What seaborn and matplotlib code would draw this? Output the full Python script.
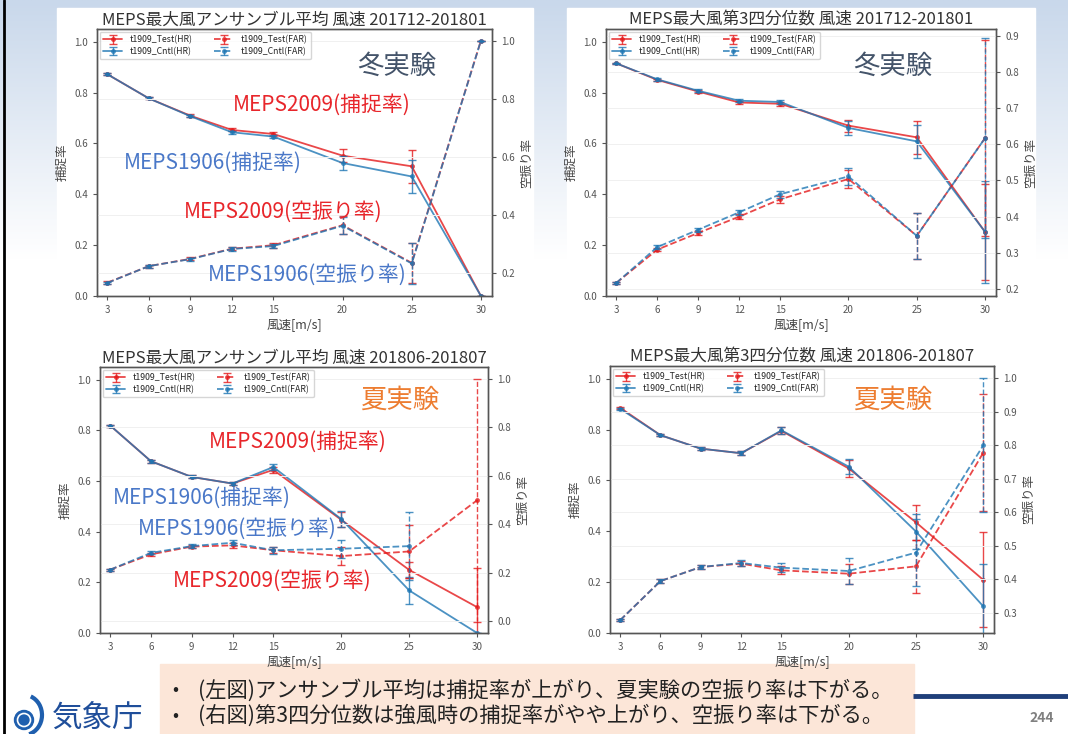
import numpy as np
import matplotlib
matplotlib.use("Agg")
import matplotlib.pyplot as plt
from matplotlib.patches import Rectangle, Circle, Arc
import seaborn as sns

sns.set_style("ticks")
plt.rcParams['font.family'] = ['Noto Sans CJK JP', 'DejaVu Sans']

# wind speed classes [m/s]
wind = [3, 6, 9, 12, 15, 20, 25, 30]

# winter, ensemble mean (201712-201801)
w_mean_hr_test = [0.872, 0.777, 0.709, 0.653, 0.637, 0.552, 0.510, 0.0]
w_mean_hr_cntl = [0.872, 0.777, 0.707, 0.644, 0.627, 0.523, 0.470, 0.0]
w_mean_hr_test_err = [0.004, 0.004, 0.005, 0.006, 0.007, 0.026, 0.065, 0.0]
w_mean_hr_cntl_err = [0.004, 0.004, 0.005, 0.006, 0.007, 0.026, 0.065, 0.0]
w_mean_far_test = [0.166, 0.223, 0.248, 0.283, 0.295, 0.364, 0.234, 1.0]
w_mean_far_cntl = [0.165, 0.223, 0.247, 0.282, 0.292, 0.362, 0.232, 1.0]
w_mean_far_test_err = [0.004, 0.005, 0.005, 0.006, 0.008, 0.030, 0.070, 0.0]
w_mean_far_cntl_err = [0.004, 0.005, 0.005, 0.006, 0.008, 0.030, 0.070, 0.0]

# winter, 3rd quartile
w_q3_hr_test = [0.915, 0.850, 0.804, 0.761, 0.756, 0.670, 0.624, 0.252]
w_q3_hr_cntl = [0.915, 0.852, 0.807, 0.768, 0.763, 0.661, 0.608, 0.252]
w_q3_hr_test_err = [0.003, 0.005, 0.006, 0.007, 0.008, 0.024, 0.064, 0.19]
w_q3_hr_cntl_err = [0.003, 0.005, 0.006, 0.007, 0.008, 0.026, 0.066, 0.20]
w_q3_far_test = [0.217, 0.309, 0.355, 0.400, 0.448, 0.504, 0.347, 0.617]
w_q3_far_cntl = [0.217, 0.316, 0.364, 0.412, 0.462, 0.511, 0.347, 0.617]
w_q3_far_test_err = [0.003, 0.005, 0.006, 0.007, 0.009, 0.026, 0.064, 0.27]
w_q3_far_cntl_err = [0.003, 0.005, 0.006, 0.007, 0.010, 0.024, 0.064, 0.275]

# summer, ensemble mean (201806-201807)
s_mean_hr_test = [0.819, 0.678, 0.616, 0.590, 0.644, 0.447, 0.249, 0.102]
s_mean_hr_cntl = [0.819, 0.678, 0.616, 0.590, 0.655, 0.450, 0.168, 0.0]
s_mean_hr_test_err = [0.004, 0.005, 0.006, 0.007, 0.012, 0.030, 0.030, 0.155]
s_mean_hr_cntl_err = [0.004, 0.005, 0.006, 0.007, 0.013, 0.033, 0.052, 0.0]
s_mean_far_test = [0.213, 0.276, 0.308, 0.313, 0.293, 0.269, 0.288, 0.499]
s_mean_far_cntl = [0.213, 0.282, 0.310, 0.324, 0.293, 0.299, 0.310, np.nan]
s_mean_far_test_err = [0.004, 0.006, 0.007, 0.010, 0.012, 0.036, 0.110, 0.5]
s_mean_far_cntl_err = [0.004, 0.006, 0.007, 0.010, 0.015, 0.038, 0.140, np.nan]

# summer, 3rd quartile
s_q3_hr_test = [0.886, 0.778, 0.725, 0.707, 0.795, 0.647, 0.435, 0.209]
s_q3_hr_cntl = [0.882, 0.778, 0.725, 0.707, 0.797, 0.654, 0.399, 0.105]
s_q3_hr_test_err = [0.004, 0.005, 0.006, 0.008, 0.014, 0.034, 0.070, 0.187]
s_q3_hr_cntl_err = [0.004, 0.005, 0.006, 0.008, 0.015, 0.030, 0.070, 0.168]
s_q3_far_test = [0.277, 0.394, 0.436, 0.446, 0.426, 0.416, 0.438, 0.777]
s_q3_far_cntl = [0.277, 0.394, 0.436, 0.448, 0.434, 0.424, 0.479, 0.799]
s_q3_far_test_err = [0.003, 0.005, 0.006, 0.008, 0.012, 0.030, 0.079, 0.175]
s_q3_far_cntl_err = [0.003, 0.005, 0.006, 0.008, 0.014, 0.040, 0.100, 0.2]

series_labels = ['t1909_Test(HR)', 't1909_Cntl(HR)', 't1909_Test(FAR)', 't1909_Cntl(FAR)']

RED = '#e41a1c'
BLUE = '#1f77b4'
W, H = 1068, 734

fig = plt.figure(figsize=(10.68, 7.34), dpi=100)

# slide background
bg = fig.add_axes([0, 0, 1, 1], zorder=-10)
bg.set_xlim(0, W)
bg.set_ylim(H, 0)
bg.axis('off')
grad = np.linspace(0, 1, 100)[:, None] * np.ones((1, 10))
cm = matplotlib.colors.LinearSegmentedColormap.from_list('g', ['#c9d8eb', '#ffffff'])
bg.imshow(grad, cmap=cm, extent=[0, W, 260, 0], aspect='auto')
bg.add_patch(Rectangle((57, 8), 476, 326, color='white'))
bg.add_patch(Rectangle((567, 8), 468, 326, color='white'))
bg.plot([4, 4], [0, H], color='black', lw=2)
bg.add_patch(Rectangle((160, 664), 754, 70, color='#fce6d8'))
bg.plot([913, W], [696, 696], color='#1f3f7a', lw=3.5, solid_capstyle='butt')
bg.add_patch(Circle((24, 720), 9.5, color='#1f5fae'))
bg.add_patch(Circle((24, 720), 6.5, fill=False, ec='white', lw=1.2))
bg.add_patch(Arc((24, 715), 36, 40, theta1=-70, theta2=75, color='#1f5fae', lw=3))


def px(x, y):
    return x / W, 1 - y / H


def draw_series(ax, y, err, color, ls, label):
    sns.lineplot(x=wind, y=y, ax=ax, color=color, linestyle=ls, marker='o',
                 markersize=3.5, markeredgewidth=0, alpha=0.8, lw=1.3, label=label)
    line = ax.lines[-1]
    eb = ax.errorbar(wind, y, yerr=err, fmt='none', ecolor=color, elinewidth=1,
                     capsize=3, capthick=1, alpha=0.8)
    eb[2][0].set_linestyle(ls)
    return (line, eb)


def draw_panel(rect, title, hr_t, hr_t_e, hr_c, hr_c_e, far_t, far_t_e, far_c, far_c_e, far_lim):
    ax = fig.add_axes(rect)
    ax2 = ax.twinx()
    handles = [draw_series(ax, hr_t, hr_t_e, RED, '-', series_labels[0]),
               draw_series(ax, hr_c, hr_c_e, BLUE, '-', series_labels[1]),
               draw_series(ax2, far_t, far_t_e, RED, '--', series_labels[2]),
               draw_series(ax2, far_c, far_c_e, BLUE, '--', series_labels[3])]
    if ax.get_legend():
        ax.get_legend().remove()
    if ax2.get_legend():
        ax2.get_legend().remove()
    ax.set_xlim(2.25, 30.8)
    ax.set_ylim(0, 1.05)
    ax2.set_ylim(*far_lim)
    ax.set_xticks(wind)
    ax.set_yticks([0, 0.2, 0.4, 0.6, 0.8, 1.0])
    ax.set_yticklabels(['0.0', '0.2', '0.4', '0.6', '0.8', '1.0'])
    ax2.grid(axis='y', color='#f0f0f0', lw=0.7)
    ax2.set_axisbelow(True)
    for a in (ax, ax2):
        a.tick_params(labelsize=7, labelcolor='#555555', color='#555555', length=3, width=0.8)
        for s in a.spines.values():
            s.set_color('#555555')
            s.set_linewidth(1)
    ax.set_title(title, fontsize=12, color='#333333', pad=3)
    ax.set_xlabel('風速[m/s]', fontsize=9, color='#444444', labelpad=2)
    ax.set_ylabel('捕捉率', fontsize=9, color='#444444')
    ax2.set_ylabel('空振り率', fontsize=9, color='#444444')
    ax2.legend(handles, series_labels, loc='upper left', ncol=2, fontsize=6.3,
               frameon=True, edgecolor='#cccccc', handlelength=2.2,
               columnspacing=2.5, borderaxespad=0.3, labelspacing=0.3)
    return ax, ax2


draw_panel([97 / W, 1 - 296 / H, 395 / W, 267 / H],
           'MEPS最大風アンサンブル平均 風速 201712-201801',
           w_mean_hr_test, w_mean_hr_test_err, w_mean_hr_cntl, w_mean_hr_cntl_err,
           w_mean_far_test, w_mean_far_test_err, w_mean_far_cntl, w_mean_far_cntl_err,
           (0.12, 1.04))
draw_panel([606 / W, 1 - 296 / H, 390 / W, 267 / H],
           'MEPS最大風第3四分位数 風速 201712-201801',
           w_q3_hr_test, w_q3_hr_test_err, w_q3_hr_cntl, w_q3_hr_cntl_err,
           w_q3_far_test, w_q3_far_test_err, w_q3_far_cntl, w_q3_far_cntl_err,
           (0.181, 0.918))
draw_panel([100 / W, 1 - 633 / H, 388 / W, 266 / H],
           'MEPS最大風アンサンブル平均 風速 201806-201807',
           s_mean_hr_test, s_mean_hr_test_err, s_mean_hr_cntl, s_mean_hr_cntl_err,
           s_mean_far_test, s_mean_far_test_err, s_mean_far_cntl, s_mean_far_cntl_err,
           (-0.048, 1.048))
draw_panel([610 / W, 1 - 633 / H, 384 / W, 267 / H],
           'MEPS最大風第3四分位数 風速 201806-201807',
           s_q3_hr_test, s_q3_hr_test_err, s_q3_hr_cntl, s_q3_hr_cntl_err,
           s_q3_far_test, s_q3_far_test_err, s_q3_far_cntl, s_q3_far_cntl_err,
           (0.239, 1.036))

# annotations on the slide
TRED = '#e8262b'
TBLUE = '#4a78c8'
ann = dict(ha='center', va='center', fontsize=15)
fig.text(*px(397, 66), '冬実験', color='#44546a', fontsize=19, ha='center', va='center')
fig.text(*px(893, 66), '冬実験', color='#44546a', fontsize=19, ha='center', va='center')
fig.text(*px(400, 400), '夏実験', color='#ed7d31', fontsize=19, ha='center', va='center')
fig.text(*px(893, 400), '夏実験', color='#ed7d31', fontsize=19, ha='center', va='center')

fig.text(*px(322, 105), 'MEPS2009(捕捉率)', color=TRED, **ann)
fig.text(*px(213, 163), 'MEPS1906(捕捉率)', color=TBLUE, **ann)
fig.text(*px(283, 212), 'MEPS2009(空振り率)', color=TRED, **ann)
fig.text(*px(307, 275), 'MEPS1906(空振り率)', color=TBLUE, **ann)

fig.text(*px(298, 442), 'MEPS2009(捕捉率)', color=TRED, **ann)
fig.text(*px(202, 498), 'MEPS1906(捕捉率)', color=TBLUE, **ann)
fig.text(*px(237, 529), 'MEPS1906(空振り率)', color=TBLUE, **ann)
fig.text(*px(272, 581), 'MEPS2009(空振り率)', color=TRED, **ann)

# bullet notes
fig.text(*px(172, 690), '•', fontsize=13, color='#222222', ha='left', va='center')
fig.text(*px(198, 690), '(左図)アンサンブル平均は捕捉率が上がり、夏実験の空振り率は下がる。',
         fontsize=15.3, color='#222222', ha='left', va='center')
fig.text(*px(172, 716), '•', fontsize=13, color='#222222', ha='left', va='center')
fig.text(*px(198, 716), '(右図)第3四分位数は強風時の捕捉率がやや上がり、空振り率は下がる。',
         fontsize=15.3, color='#222222', ha='left', va='center')

fig.text(*px(52, 718), '気象庁', fontsize=22, color='#1f4e9a', ha='left', va='center')
fig.text(*px(1042, 718), '244', fontsize=10, color='#808080', ha='center', va='center',
         fontweight='bold')

fig.savefig('out.png', dpi=100)
